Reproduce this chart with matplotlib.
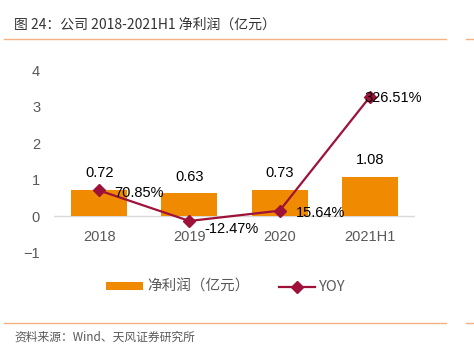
import matplotlib
matplotlib.use('Agg')
import matplotlib.pyplot as plt
from matplotlib.lines import Line2D

categories = ['2018', '2019', '2020', '2021H1']
profit = [0.72, 0.63, 0.73, 1.08]          # 净利润（亿元）
yoy = [70.85, -12.47, 15.64, 326.51]        # YOY, %

bar_color = '#F08A00'
line_color = '#9E1239'
rule_color = '#F4B183'
grey = '#595959'

plt.rcParams['font.family'] = ['Liberation Sans', 'Noto Sans CJK SC', 'DejaVu Sans']
cjk = ['Noto Sans CJK SC', 'DejaVu Sans']

W, H = 474, 354
fig = plt.figure(figsize=(W / 100, H / 100), dpi=100)

def px(x, y):
    return x / W, 1 - y / H

# header / footer
fig.text(*px(14, 25), '图 24：公司 2018-2021H1 净利润（亿元）', family=cjk,
         fontsize=10, weight='medium', color='#333333', va='center', ha='left')
fig.text(*px(14, 337), '资料来源：Wind、天风证券研究所', family=cjk,
         fontsize=8.5, color=grey, va='center', ha='left')
for y in (39, 323):
    fig.add_artist(Line2D([4 / W, 446 / W], [1 - y / H] * 2, color=rule_color, lw=1))
    fig.add_artist(Line2D([466 / W, 1], [1 - y / H] * 2, color=rule_color, lw=1))

ax = fig.add_axes([54 / W, 1 - 253 / H, 361 / W, 183 / H])
x = list(range(len(categories)))
bars = ax.bar(x, profit, width=0.62, color=bar_color, label='净利润（亿元）', zorder=2)
ax.axhline(0, color='#D9D9D9', lw=1, zorder=1)
yy = [v / 100 for v in yoy]
line, = ax.plot(x, yy, color=line_color, lw=1.6, marker='D', markersize=6,
                label='YOY', zorder=3)

ax.set_xlim(-0.5, 3.5)
ax.set_ylim(-1, 4)
ax.set_yticks(range(-1, 5))
ax.tick_params(axis='y', length=0, pad=10, labelsize=10.5, labelcolor=grey)
ax.set_xticks([])
for s in ax.spines.values():
    s.set_visible(False)

for i, c in enumerate(categories):
    ax.text(i, -0.55, c, ha='center', va='center', fontsize=10.5, color=grey)

for i, v in enumerate(profit):
    ax.annotate('%.2f' % v, (i, v), xytext=(0, 12), textcoords='offset points',
                ha='center', va='center', fontsize=10.5, color='black')

yoy_off = [(11, -1.5), (11, -6), (12, -1.5), (-4, -1)]
for i, v in enumerate(yoy):
    ax.annotate('%.2f%%' % v, (i, yy[i]), xytext=yoy_off[i], textcoords='offset points',
                ha='left', va='center', fontsize=10.5, color='black', zorder=4)

fig.legend(handles=[bars, line], loc='center', bbox_to_anchor=(0.477, 1 - 287 / H),
           ncol=2, frameon=False, prop={'family': cjk, 'size': 10.5}, labelcolor=grey,
           handlelength=2.5, handleheight=0.4, columnspacing=2.0, handletextpad=0.3)

fig.savefig('out.png', dpi=100)
